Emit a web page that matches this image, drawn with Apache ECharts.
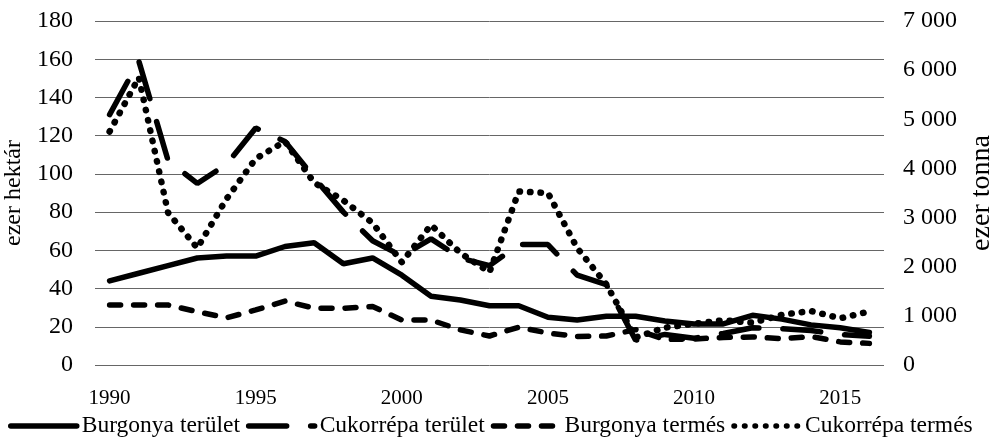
<!DOCTYPE html>
<html>
<head>
	<meta charset="utf-8">
	<title>Burgonya és cukorrépa</title>
	<script src="https://cdn.jsdelivr.net/npm/echarts@6/dist/echarts.min.js"></script>
</head>
<body style="margin:0;background:#fff;">
	<div id="chart1" style="width:1001px;height:445px;"></div>
	<script>
	// évek
	var years = ['1990','1991','1992','1993','1994','1995','1996','1997','1998','1999',
		'2000','2001','2002','2003','2004','2005','2006','2007','2008','2009',
		'2010','2011','2012','2013','2014','2015','2016'];

	// ezer hektár (bal tengely)
	var burgonyaTerulet = [44, 48, 52, 56, 57, 57, 62, 64, 53, 56,
		47, 36, 34, 31, 31, 25, 23.5, 25.5, 25.5, 23,
		21.5, 21.5, 26, 24, 21, 19.5, 17];
	var cukorrepaTerulet = [131, 159, 107, 95, 105, 124, 117, 98, 80, 65,
		57, 66, 56, 52, 63, 63, 47, 42, 13, 16,
		14, 16.5, 19.5, 19, 18, 16, 15];

	// ezer tonna (jobb tengely)
	var burgonyaTermes = [1220, 1220, 1220, 1085, 960, 1120, 1300, 1155, 1155, 1190,
		915, 915, 715, 590, 770, 650, 580, 590, 720, 520,
		530, 560, 570, 535, 580, 470, 440];
	var cukorrepaTermes = [4750, 5850, 3100, 2380, 3380, 4200, 4550, 3710, 3350, 2890,
		2090, 2850, 2280, 1890, 3530, 3500, 2380, 1640, 560, 760,
		840, 910, 860, 1020, 1100, 950, 1090];

	var names = ['Burgonya terület', 'Cukorrépa terület', 'Burgonya termés', 'Cukorrépa termés'];

	var font = 'Liberation Serif';

	function lineStyle(type, width) {
		return { color: '#000', width: width, type: type, cap: 'round' };
	}

	var myChart = echarts.init(document.getElementById('chart1'));

	var option = {
		backgroundColor: '#fff',
		animation: false,
		textStyle: { fontFamily: font, color: '#000' },
		grid: { left: 95, right: 117, top: 21, bottom: 80, outerBoundsMode: 'none' },
		legend: {
			top: 414,
			left: 8,
			width: 993,
			padding: 0,
			itemWidth: 66,
			itemHeight: 8,
			itemGap: 6,
			itemStyle: { color: 'rgba(0,0,0,0)', borderWidth: 0 },
			lineStyle: { width: 5.5 },
			textStyle: { fontFamily: font, fontSize: 23.5, color: '#000' },
			data: names
		},
		xAxis: {
			type: 'category',
			data: years,
			boundaryGap: true,
			axisLine: { show: false },
			axisTick: { show: false },
			axisLabel: { interval: 4, fontSize: 21, color: '#000', fontFamily: font, margin: 23 }
		},
		yAxis: [{
			type: 'value',
			min: 0, max: 180, interval: 20,
			name: 'ezer hektár',
			nameLocation: 'middle',
			nameRotate: 90,
			nameGap: 64,
			nameTextStyle: { fontSize: 24, color: '#000', fontFamily: font },
			axisLabel: { fontSize: 24, color: '#000', fontFamily: font, margin: 22 },
			splitLine: { lineStyle: { color: '#666', width: 1 } }
		}, {
			type: 'value',
			min: 0, max: 7000, interval: 1000,
			name: 'ezer tonna',
			nameLocation: 'middle',
			nameRotate: 90,
			nameGap: 80,
			nameTextStyle: { fontSize: 28, color: '#000', fontFamily: font },
			axisLabel: {
				fontSize: 24, color: '#000', fontFamily: font, margin: 19,
				formatter: function (v) {
					return v >= 1000 ? Math.floor(v / 1000) + ' 000' : String(v);
				}
			},
			splitLine: { show: false }
		}],
		series: [
			{ name: names[0], type: 'line', yAxisIndex: 0, data: burgonyaTerulet,
				symbol: 'none', itemStyle: { color: '#000' }, lineStyle: lineStyle('solid', 5.5) },
			{ name: names[1], type: 'line', yAxisIndex: 0, data: cukorrepaTerulet,
				symbol: 'none', itemStyle: { color: '#000' }, lineStyle: lineStyle([38, 24], 5.5) },
			{ name: names[2], type: 'line', yAxisIndex: 1, data: burgonyaTermes,
				symbol: 'none', itemStyle: { color: '#000' }, lineStyle: lineStyle([11, 13], 5.5) },
			{ name: names[3], type: 'line', yAxisIndex: 1, data: cukorrepaTermes,
				symbol: 'none', itemStyle: { color: '#000' }, lineStyle: lineStyle([0.5, 10], 6.5) }
		]
	};

	myChart.setOption(option);
	</script>
</body>
</html>
